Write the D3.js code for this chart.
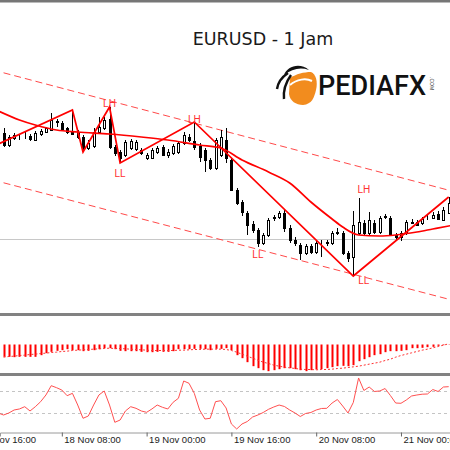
<!DOCTYPE html>
<html>
<head>
<meta charset="utf-8">
<script src="https://cdn.jsdelivr.net/npm/d3@7"></script>
<style>
  html, body { margin: 0; padding: 0; background: #fff; }
  svg { display: block; }
</style>
</head>
<body>
<div id="chart"></div>
<script>
// EURUSD H1, 17 Nov 21:00 .. 21 Nov 09:00
var firstBar = "17 Nov 21:00";
var viewStart = "17 Nov 20:20", viewEnd = "21 Nov 09:15";
var tickLabels = ["17 Nov 16:00", "18 Nov 08:00", "19 Nov 00:00", "19 Nov 16:00", "20 Nov 08:00", "21 Nov 00:00"];

var barOpen = [
  1.1105,1.1093,1.1100,1.1101,1.1102,1.1102,1.1098,1.1104,1.1106,1.1108,
  1.1116,1.1115,1.1110,1.1106,1.1106,1.1101,1.1090,1.1092,1.1106,1.1110,
  1.1119,1.1091,1.1086,1.1083,1.1090,1.1089,1.1088,1.1080,1.1080,1.1086,
  1.1091,1.1083,1.1085,1.1086,1.1095,1.1101,1.1097,1.1092,1.1088,1.1078,
  1.1070,1.1083,1.1098,1.1078,1.1048,1.1036,1.1025,1.1014,1.1008,1.0995,
  1.1003,1.1020,1.1021,1.1025,1.1010,1.0998,1.0993,1.0985,1.0992,1.0986,
  1.0995,1.0995,1.0995,1.1005,1.1005,1.0985,1.0981,1.1005,1.1015,1.1005,
  1.1015,1.1006,1.1022,1.1020,1.1003,1.1001,1.1005,1.1015,1.1016,1.1015,
  1.1020,1.1020,1.1024,1.1018,1.1025];
var barHigh = [
  1.1110,1.1103,1.1105,1.1104,1.1106,1.1104,1.1107,1.1109,1.1111,1.1125,
  1.1119,1.1117,1.1111,1.1128,1.1108,1.1103,1.1098,1.1110,1.1121,1.1121,
  1.1131,1.1093,1.1088,1.1098,1.1099,1.1098,1.1090,1.1085,1.1090,1.1092,
  1.1093,1.1089,1.1094,1.1097,1.1106,1.1104,1.1116,1.1095,1.1090,1.1080,
  1.1100,1.1108,1.1110,1.1080,1.1050,1.1038,1.1027,1.1017,1.1010,1.1005,
  1.1020,1.1023,1.1027,1.1028,1.1013,1.1001,1.0995,1.0994,1.0994,1.0997,
  1.0998,1.0998,1.1007,1.1010,1.1007,1.0987,1.1027,1.1040,1.1018,1.1026,
  1.1018,1.1022,1.1024,1.1022,1.1005,1.1007,1.1018,1.1019,1.1018,1.1021,
  1.1023,1.1026,1.1027,1.1031,1.1041];
var barLow = [
  1.1091,1.1091,1.1098,1.1098,1.1099,1.1097,1.1097,1.1102,1.1105,1.1107,
  1.1111,1.1108,1.1104,1.1103,1.1099,1.1086,1.1088,1.1090,1.1104,1.1108,
  1.1089,1.1082,1.1075,1.1081,1.1088,1.1087,1.1083,1.1078,1.1079,1.1084,
  1.1082,1.1080,1.1083,1.1084,1.1093,1.1096,1.1088,1.1076,1.1066,1.1068,
  1.1068,1.1081,1.1075,1.1047,1.1033,1.1022,1.1003,1.1005,1.0991,1.0993,
  1.1001,1.1017,1.1019,1.1006,1.0995,1.0992,1.0978,1.0983,1.0984,1.0984,
  1.0981,1.0992,1.0993,1.1003,1.0983,1.0976,1.0962,1.1003,1.1003,1.1003,
  1.1004,1.1004,1.1019,1.1002,1.0998,1.0997,1.1003,1.1014,1.1012,1.1013,
  1.1018,1.1019,1.1018,1.1017,1.1024];
var barClose = [
  1.1093,1.1101,1.1103,1.1101,1.1102,1.1099,1.1105,1.1107,1.1110,1.1118,
  1.1117,1.1109,1.1106,1.1104,1.1101,1.1090,1.1095,1.1106,1.1111,1.1118,
  1.1091,1.1085,1.1080,1.1096,1.1097,1.1096,1.1085,1.1083,1.1088,1.1090,
  1.1083,1.1086,1.1092,1.1095,1.1103,1.1098,1.1091,1.1081,1.1078,1.1070,
  1.1098,1.1101,1.1080,1.1048,1.1035,1.1026,1.1013,1.1008,1.0995,1.1003,
  1.1018,1.1021,1.1025,1.1010,1.0998,1.0995,1.0985,1.0992,1.0986,1.0995,
  1.0995,1.0996,1.1005,1.1006,1.0985,1.0980,1.1013,1.1016,1.1005,1.1018,
  1.1006,1.1020,1.1021,1.1003,1.1001,1.1005,1.1016,1.1016,1.1013,1.1019,
  1.1020,1.1023,1.1019,1.1028,1.1035];

// moving average, read at a few bars
var maBars   = [-1, 3, 6, 10, 14, 20, 26, 31, 37, 41, 45, 50, 54, 58, 62, 64, 67, 71, 74, 78, 81, 85];
var maValues = [1.1127,1.1118,1.1113,1.1108,1.1106,1.1104,1.1101,1.1098,1.1093,1.1090,1.1078,
                1.1066,1.1055,1.1036,1.1019,1.1011,1.1003,1.1002,1.1003,1.1006,1.1009,1.1013];

// zigzag swings
var zigzagBars   = [-1, 13, 15, 20, 22, 36, 66, 84];
var zigzagPrices = [1.1094, 1.1128, 1.1086, 1.1131, 1.1075, 1.1116, 1.0962, 1.1041];

var swingText   = ["LH", "LL", "LH", "LL", "LH", "LL"];
var swingBars   = [20, 22, 36, 48, 68, 68];
var swingPrices = [1.1131, 1.1061, 1.1115, 1.0980, 1.1045, 1.0954];

// trend channel
var channelBars  = [-2, 86];
var channelUpper = [1.1168, 1.1045];
var channelLower = [1.1058, 1.0936];
var levelPrice = 1.0999;

var macdMain = [
  -0.00037,-0.00037,-0.00038,-0.00037,-0.00037,-0.00037,-0.00037,-0.00032,-0.00026,-0.00022,
  -0.00019,-0.00017,-0.00014,-0.00017,-0.00017,-0.00020,-0.00019,-0.00017,-0.00014,-0.00011,
  -0.00011,-0.00014,-0.00019,-0.00020,-0.00020,-0.00020,-0.00022,-0.00023,-0.00023,-0.00022,
  -0.00022,-0.00022,-0.00020,-0.00014,-0.00014,-0.00014,-0.00013,-0.00013,-0.00014,-0.00017,
  -0.00013,-0.00013,-0.00011,-0.00017,-0.00032,-0.00041,-0.00053,-0.00065,-0.00071,-0.00077,
  -0.00080,-0.00077,-0.00074,-0.00071,-0.00071,-0.00074,-0.00077,-0.00080,-0.00077,-0.00075,
  -0.00074,-0.00071,-0.00068,-0.00065,-0.00064,-0.00065,-0.00062,-0.00050,-0.00044,-0.00038,
  -0.00032,-0.00029,-0.00023,-0.00020,-0.00020,-0.00019,-0.00017,-0.00011,-0.00011,-0.00010,
  -0.00008,-0.00007,-0.00004,-0.00002,-0.00001];
var macdSignal = [
  -0.00038,-0.00036,-0.00035,-0.00033,-0.00032,-0.00030,-0.00029,-0.00027,-0.00026,-0.00024,
  -0.00023,-0.00021,-0.00020,-0.00018,-0.00017,-0.00016,-0.00015,-0.00014,-0.00013,-0.00012,
  -0.00011,-0.00012,-0.00012,-0.00013,-0.00014,-0.00015,-0.00016,-0.00017,-0.00018,-0.00018,
  -0.00018,-0.00018,-0.00018,-0.00017,-0.00017,-0.00016,-0.00015,-0.00015,-0.00014,-0.00014,
  -0.00014,-0.00014,-0.00015,-0.00018,-0.00023,-0.00029,-0.00035,-0.00041,-0.00047,-0.00053,
  -0.00057,-0.00062,-0.00065,-0.00068,-0.00070,-0.00072,-0.00074,-0.00075,-0.00075,-0.00076,
  -0.00075,-0.00075,-0.00074,-0.00072,-0.00071,-0.00069,-0.00067,-0.00065,-0.00062,-0.00059,
  -0.00056,-0.00053,-0.00048,-0.00044,-0.00038,-0.00033,-0.00029,-0.00025,-0.00021,-0.00017,
  -0.00014,-0.00010,-0.00006,-0.00002,0.00002];

var rsiBars = [-1].concat(d3.range(85));
var rsiValues = [
  30.5,
  26.9,30.5,35.9,37.7,41.8,34.1,41.8,50.8,62.8,79.5,
  75.9,71.7,61.5,65.8,44.8,21.0,25.1,44.8,62.8,70.0,
  44.8,13.8,17.9,34.1,41.8,38.9,34.1,31.7,37.7,44.8,
  40.7,37.7,49.7,56.9,87.9,83.8,65.8,35.9,19.7,21.0,
  50.8,52.6,39.5,10.8,1.8,10.8,15.2,23.3,26.9,31.4,
  37.1,41.3,44.8,42.2,35.9,30.5,24.2,29.6,31.4,35.9,
  38.6,38.9,48.4,54.7,43.0,30.5,49.3,93.3,70.9,77.1,
  69.1,70.0,74.4,61.9,48.4,47.9,53.8,61.0,62.8,64.2,
  64.6,72.6,69.1,77.1,77.7];
var rsiLevels = [70, 30];

var W = 450, H = 450;
var red = "#ff0000";

var svg = d3.select("#chart").append("svg")
    .attr("width", W)
    .attr("height", H);

svg.append("rect").attr("width", W).attr("height", H).attr("fill", "#fff");

var parseTime = d3.utcParse("%d %b %H:%M"),
    t0 = parseTime(firstBar),
    barTime = function(i) { return d3.utcHour.offset(t0, i); };

var x = d3.scaleTime()
    .domain([parseTime(viewStart), parseTime(viewEnd)])
    .range([0, W]);
var px = function(i) { return Math.round(x(barTime(i))); };

var y = d3.scaleLinear().domain([1.0926, 1.1235]).range([312, 3]);
var yMacd = d3.scaleLinear().domain([-0.000855, 0.000855]).range([373, 316]);
var yRsi = d3.scaleLinear().domain([0, 100]).range([430, 374.25]);

var defs = svg.append("defs");
defs.append("clipPath").attr("id", "clip-main")
    .append("rect").attr("x", 0).attr("y", 2).attr("width", W).attr("height", 311);
defs.append("clipPath").attr("id", "clip-rsi")
    .append("rect").attr("x", 0).attr("y", 376).attr("width", W).attr("height", 56);

// ---- main panel
var main = svg.append("g").attr("clip-path", "url(#clip-main)");

main.append("line")
    .attr("x1", 0).attr("x2", W)
    .attr("y1", Math.round(y(levelPrice)) + 0.5).attr("y2", Math.round(y(levelPrice)) + 0.5)
    .attr("stroke", "#c8c8c8");

[channelUpper, channelLower].forEach(function(ch) {
    main.append("path")
        .datum(channelBars.map(function(b, k) { return [b, ch[k]]; }))
        .attr("d", d3.line()
            .x(function(d) { return x(barTime(d[0])); })
            .y(function(d) { return y(d[1]); }))
        .attr("fill", "none")
        .attr("stroke", "#ff4a4a")
        .attr("stroke-width", 1)
        .attr("stroke-dasharray", "7,4");
});

var candles = main.append("g").selectAll("g")
    .data(d3.range(barOpen.length))
    .join("g");

candles.append("line")
    .attr("x1", function(i) { return px(i) + 0.5; })
    .attr("x2", function(i) { return px(i) + 0.5; })
    .attr("y1", function(i) { return Math.round(y(barHigh[i])); })
    .attr("y2", function(i) { return Math.round(y(barLow[i])); })
    .attr("stroke", "#000");

candles.append("rect")
    .attr("x", function(i) { return px(i) - 0.5; })
    .attr("width", 2)
    .attr("y", function(i) { return Math.round(y(Math.max(barOpen[i], barClose[i]))) + 0.5; })
    .attr("height", function(i) {
        return Math.max(0, Math.round(y(Math.min(barOpen[i], barClose[i]))) - Math.round(y(Math.max(barOpen[i], barClose[i]))));
    })
    .attr("fill", function(i) { return barClose[i] >= barOpen[i] ? "#fff" : "#000"; })
    .attr("stroke", "#000");

main.append("path")
    .datum(maBars.map(function(b, k) { return [b, maValues[k]]; }))
    .attr("d", d3.line()
        .curve(d3.curveMonotoneX)
        .x(function(d) { return x(barTime(d[0])); })
        .y(function(d) { return y(d[1]); }))
    .attr("fill", "none")
    .attr("stroke", red)
    .attr("stroke-width", 1.7);

main.append("path")
    .datum(zigzagBars.map(function(b, k) { return [b, zigzagPrices[k]]; }))
    .attr("d", d3.line()
        .x(function(d) { return x(barTime(d[0])); })
        .y(function(d) { return y(d[1]); }))
    .attr("fill", "none")
    .attr("stroke", red)
    .attr("stroke-width", 1.7);

main.append("g").selectAll("text")
    .data(swingText)
    .join("text")
    .attr("x", function(d, k) { return x(barTime(swingBars[k])); })
    .attr("y", function(d, k) { return y(swingPrices[k]); })
    .attr("text-anchor", "middle")
    .attr("font-family", "Liberation Sans, Arial, sans-serif")
    .attr("font-size", 10)
    .attr("fill", "#ff3030")
    .text(function(d) { return d; });

// title + logo
svg.append("text")
    .attr("x", 263).attr("y", 45)
    .attr("text-anchor", "middle")
    .attr("font-family", "DejaVu Sans, sans-serif")
    .attr("font-size", 17.5)
    .attr("fill", "#1a1a1a")
    .text("EURUSD - 1 Jam");

var logo = svg.append("g");
logo.append("path")
    .attr("d", "M290 78 C296 74 304 72 311 72 C316 74 318 82 316 90 C314 98 312 104 303 105 C296 105 290 101 289 94 Z")
    .attr("fill", "#f28c1e");
logo.append("path")
    .attr("d", "M290 85 C297 79 306 78 312 81")
    .attr("fill", "none").attr("stroke", "#fff").attr("stroke-width", 2);
logo.append("path")
    .attr("d", "M284 75 C287 66 300 62 309 70 C300 67 292 69 284 75 Z")
    .attr("fill", "#111");
logo.append("path")
    .attr("d", "M288 73 C282 77 278 82 277 89")
    .attr("fill", "none").attr("stroke", "#111").attr("stroke-width", 2.4);
logo.append("path")
    .attr("d", "M291 75 C286 82 283 90 284 99")
    .attr("fill", "none").attr("stroke", "#111").attr("stroke-width", 2.4);
logo.append("text")
    .attr("x", 318).attr("y", 95)
    .attr("font-family", "Roboto, sans-serif")
    .attr("font-weight", 500)
    .attr("font-size", 27)
    .attr("textLength", 108)
    .attr("lengthAdjust", "spacingAndGlyphs")
    .attr("fill", "#111")
    .text("PEDIAFX");
logo.append("text")
    .attr("transform", "translate(430,77) rotate(90)")
    .attr("font-family", "Liberation Sans, sans-serif")
    .attr("font-size", 5)
    .attr("fill", "#333")
    .text(".COM");

// frame bands
svg.append("rect").attr("x", 0).attr("y", 0).attr("width", W).attr("height", 2.5).attr("fill", "#767676");
svg.append("rect").attr("x", 0).attr("y", 313).attr("width", W).attr("height", 3).attr("fill", "#828282");
svg.append("rect").attr("x", 0).attr("y", 373).attr("width", W).attr("height", 3).attr("fill", "#828282");

// ---- MACD panel
var macd = svg.append("g");
macd.selectAll("rect")
    .data(macdMain)
    .join("rect")
    .attr("x", function(d, i) { return px(i) - 0.5; })
    .attr("width", 2)
    .attr("y", function(d) { return Math.min(yMacd(0), yMacd(d)); })
    .attr("height", function(d) { return Math.abs(yMacd(d) - yMacd(0)); })
    .attr("fill", red);

macd.append("path")
    .datum(macdSignal)
    .attr("d", d3.line()
        .x(function(d, i) { return x(barTime(i)); })
        .y(function(d) { return yMacd(d); }))
    .attr("fill", "none")
    .attr("stroke", "#ff3030")
    .attr("stroke-width", 1)
    .attr("stroke-dasharray", "2,2");

// ---- oscillator panel
var osc = svg.append("g").attr("clip-path", "url(#clip-rsi)");
osc.selectAll("line")
    .data(rsiLevels)
    .join("line")
    .attr("x1", 0).attr("x2", W)
    .attr("y1", function(d) { return Math.round(yRsi(d)) + 0.5; })
    .attr("y2", function(d) { return Math.round(yRsi(d)) + 0.5; })
    .attr("stroke", "#c4c4c4")
    .attr("stroke-dasharray", "3,3");

osc.append("path")
    .datum(rsiValues)
    .attr("d", d3.line()
        .x(function(d, k) { return x(barTime(rsiBars[k])); })
        .y(function(d) { return yRsi(d); }))
    .attr("fill", "none")
    .attr("stroke", "#ff5050")
    .attr("stroke-width", 1);

// ---- time axis
var xAxis = svg.append("g")
    .attr("transform", "translate(0,432.5)")
    .call(d3.axisBottom(x)
        .tickValues(tickLabels.map(parseTime))
        .tickFormat(d3.utcFormat("%d %b %H:%M"))
        .tickSizeOuter(0)
        .tickSize(4));
xAxis.select(".domain").attr("stroke", "#9a9a9a");
xAxis.selectAll(".tick line").attr("stroke", "#666");
xAxis.selectAll(".tick text")
    .attr("x", 2)
    .attr("y", 4)
    .attr("text-anchor", "start")
    .attr("font-family", "Liberation Sans, Arial, sans-serif")
    .attr("font-size", 9.5)
    .attr("fill", "#222");
</script>
</body>
</html>
